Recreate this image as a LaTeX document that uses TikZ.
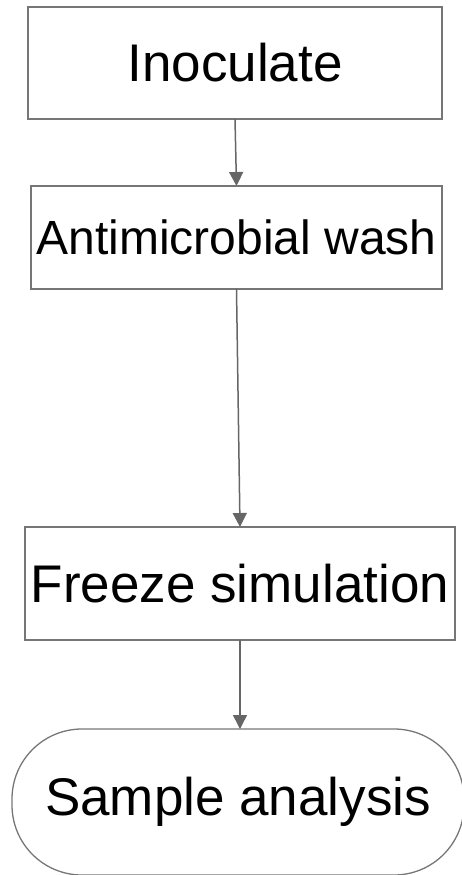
\documentclass[tikz,border=0pt]{standalone}
\usepackage{fontspec}
\setmainfont{Liberation Sans}
\usepackage{xcolor}
\usetikzlibrary{arrows.meta,positioning}
\definecolor{fcedge}{HTML}{767676}
\definecolor{fcarrow}{HTML}{666666}
\tikzset{
  stepbox/.style={rectangle, draw=fcedge, line width=1.3pt, inner sep=0pt, outer sep=0pt,
    align=center},
  termbox/.style={rectangle, rounded corners=70pt, draw=fcedge, line width=1.3pt,
    inner sep=0pt, outer sep=0pt, align=center},
  flow/.style={-{Triangle[length=14pt,width=14pt]}, draw=fcarrow, fill=fcarrow, line width=1.5pt},
}

\begin{document}
\begin{tikzpicture}[x=1pt,y=-1pt]
\useasboundingbox (0,0) rectangle (461,875);
\node[stepbox, minimum width=414pt, minimum height=112pt, font=\fontsize{53}{60}\selectfont] (inoc) at (235,63) {Inoculate};
\node[stepbox, minimum width=411pt, minimum height=103pt, font=\fontsize{48}{54}\selectfont, below=67pt of inoc, xshift=1.5pt] (wash) {Antimicrobial wash};
\node[stepbox, minimum width=430pt, minimum height=113pt, font=\fontsize{53}{60}\selectfont, below=238pt of wash, xshift=3.5pt] (freeze) {Freeze simulation};
\node[termbox, minimum width=452pt, minimum height=146pt, font=\fontsize{53}{60}\selectfont, below=89pt of freeze, xshift=-2pt] (sample) {Sample analysis};

\draw[flow] (inoc.south) -- (wash.north);
\draw[flow] (wash.south) -- (freeze.north);
\draw[flow] (freeze.south) -- (freeze.south |- sample.north);
\end{tikzpicture}
\end{document}
